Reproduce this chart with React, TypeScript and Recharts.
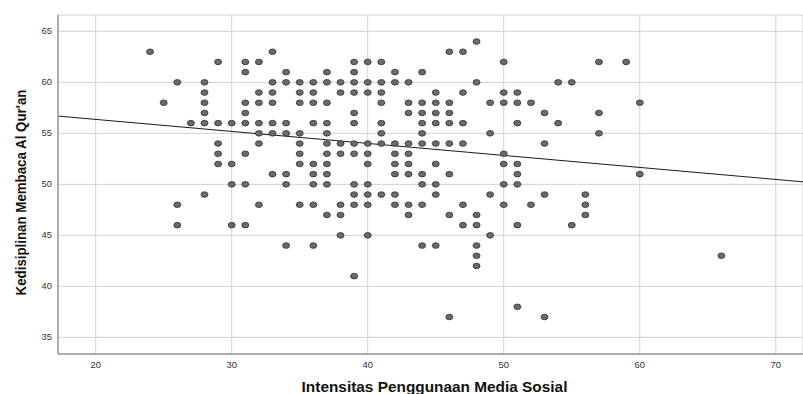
import React from 'react';
import { ScatterChart, Scatter, XAxis, YAxis, CartesianGrid, ReferenceLine } from 'recharts';

// ---- data ----
const xTicks = [20, 30, 40, 50, 60, 70];
const yTicks = [35, 40, 45, 50, 55, 60, 65];

// Intensitas Penggunaan Media Sosial (x) and the Kedisiplinan scores seen at each x
const xValues = [24, 25, 26, 27, 28, 29, 30, 31, 32, 33, 34, 35, 36, 37, 38, 39, 40, 41, 42, 43, 44, 45, 46, 47, 48, 49, 50, 51, 52, 53, 54, 55, 56, 57, 59, 60, 66];
const yValuesByX: number[][] = [
  [63],
  [58],
  [60, 48, 46],
  [56],
  [60, 59, 58, 57, 56, 49],
  [62, 56, 54, 53, 52],
  [56, 52, 50, 46],
  [62, 61, 58, 57, 56, 53, 50, 46],
  [62, 59, 58, 56, 55, 54, 48],
  [63, 60, 59, 58, 56, 55, 51],
  [61, 60, 56, 55, 51, 50, 44],
  [60, 59, 58, 55, 54, 53, 52, 48],
  [60, 59, 58, 56, 52, 51, 50, 48, 44],
  [61, 60, 58, 56, 55, 54, 53, 52, 51, 50, 47],
  [60, 59, 54, 53, 48, 47, 45],
  [62, 61, 60, 59, 57, 56, 54, 53, 50, 49, 48, 41],
  [62, 60, 59, 54, 53, 52, 50, 49, 48, 45],
  [62, 60, 59, 58, 56, 55, 54, 49],
  [61, 60, 54, 53, 52, 51, 49, 48],
  [60, 58, 57, 54, 53, 52, 51, 48, 47],
  [61, 58, 57, 56, 55, 54, 51, 50, 48, 44],
  [59, 58, 57, 56, 54, 52, 50, 49, 44],
  [63, 58, 57, 56, 54, 51, 47, 37],
  [63, 59, 56, 54, 48, 46],
  [64, 60, 47, 46, 44, 43, 42],
  [58, 55, 49, 45],
  [62, 59, 58, 53, 52, 50, 48],
  [59, 58, 56, 52, 51, 50, 46, 38],
  [58, 48],
  [57, 54, 49, 37],
  [60, 56],
  [60, 46],
  [49, 48, 47],
  [62, 57, 55],
  [62],
  [58, 51],
  [43],
];

// linear fit line
const fitIntercept = 58.72;
const fitSlope = -0.1177;

const xTitle = 'Intensitas Penggunaan Media Sosial';
const yTitle = "Kedisiplinan Membaca Al Qur'an";

const xDomain: [number, number] = [17.23, 72];
const yDomain: [number, number] = [33.37, 66.6];

const points = xValues.flatMap((x, i) => yValuesByX[i].map((y) => ({ x, y })));
const fitSegment = [
  { x: xDomain[0], y: fitIntercept + fitSlope * xDomain[0] },
  { x: xDomain[1], y: fitIntercept + fitSlope * xDomain[1] },
];

// ---- styling ----
const FONT = '"Liberation Sans", Arial, Helvetica, sans-serif';
const TICK_STRETCH = 1.15;
const TITLE_STRETCH = 1.115;

const XTick = (props: any) => {
  const { x, y, payload } = props;
  return (
    <g transform={`translate(${x},${y})`}>
      <text transform={`scale(${TICK_STRETCH},1)`} textAnchor="middle" dy={13.7} fontSize={8.2} fill="#333" fontFamily={FONT}>
        {payload.value}
      </text>
    </g>
  );
};

const YTick = (props: any) => {
  const { x, y, payload } = props;
  return (
    <g transform={`translate(${x - 6},${y})`}>
      <text transform={`scale(${TICK_STRETCH},1)`} textAnchor="end" dy={2.9} fontSize={8.2} fill="#333" fontFamily={FONT}>
        {payload.value}
      </text>
    </g>
  );
};

const XTitle = (props: any) => {
  const vb = props.viewBox || { x: 58, y: 354, width: 745, height: 40 };
  const cx = vb.x + vb.width / 2 + 4;
  const by = vb.y + 37.5;
  return (
    <text
      transform={`translate(${cx},${by}) scale(${TITLE_STRETCH},1)`}
      textAnchor="middle"
      fontSize={13.8}
      fontWeight="bold"
      fill="#111"
      fontFamily={FONT}
    >
      {xTitle}
    </text>
  );
};

const YTitle = (props: any) => {
  const vb = props.viewBox || { x: 0, y: 15, width: 58, height: 339 };
  const bx = vb.x + 25.5;
  const cy = vb.y + vb.height / 2 + 8;
  return (
    <text
      transform={`translate(${bx},${cy}) scale(${TITLE_STRETCH},1) rotate(-90)`}
      textAnchor="middle"
      fontSize={13.3}
      fontWeight="bold"
      fill="#111"
      fontFamily={FONT}
    >
      {yTitle}
    </text>
  );
};

const Dot = (props: any) => {
  const { cx, cy } = props;
  if (cx == null || cy == null) return null;
  return <ellipse cx={cx} cy={cy} rx={3.5} ry={2.8} fill="#6b6b6b" stroke="#2e2e2e" strokeWidth={0.8} />;
};

export default function App() {
  return (
    <div style={{ position: 'absolute', left: 0, top: 0, background: '#fff' }}>
      <ScatterChart width={803} height={394} margin={{ top: 15, right: 0, bottom: 0, left: 0 }}>
        <CartesianGrid stroke="#d2d2d2" strokeWidth={1} />
        <XAxis
          type="number"
          dataKey="x"
          domain={xDomain}
          ticks={xTicks}
          allowDataOverflow
          height={40}
          tickLine={false}
          tickSize={0}
          tickMargin={0}
          tick={<XTick />}
          axisLine={{ stroke: '#9a9a9a', strokeWidth: 1.5 }}
          label={{ content: <XTitle /> }}
        />
        <YAxis
          type="number"
          dataKey="y"
          domain={yDomain}
          ticks={yTicks}
          allowDataOverflow
          width={58}
          tickLine={false}
          tickSize={0}
          tickMargin={0}
          tick={<YTick />}
          axisLine={{ stroke: '#9a9a9a', strokeWidth: 1.5 }}
          label={{ content: <YTitle /> }}
        />
        <ReferenceLine segment={fitSegment} stroke="#1a1a1a" strokeWidth={1} ifOverflow="visible" />
        <Scatter data={points} shape={<Dot />} isAnimationActive={false} />
      </ScatterChart>
    </div>
  );
}
